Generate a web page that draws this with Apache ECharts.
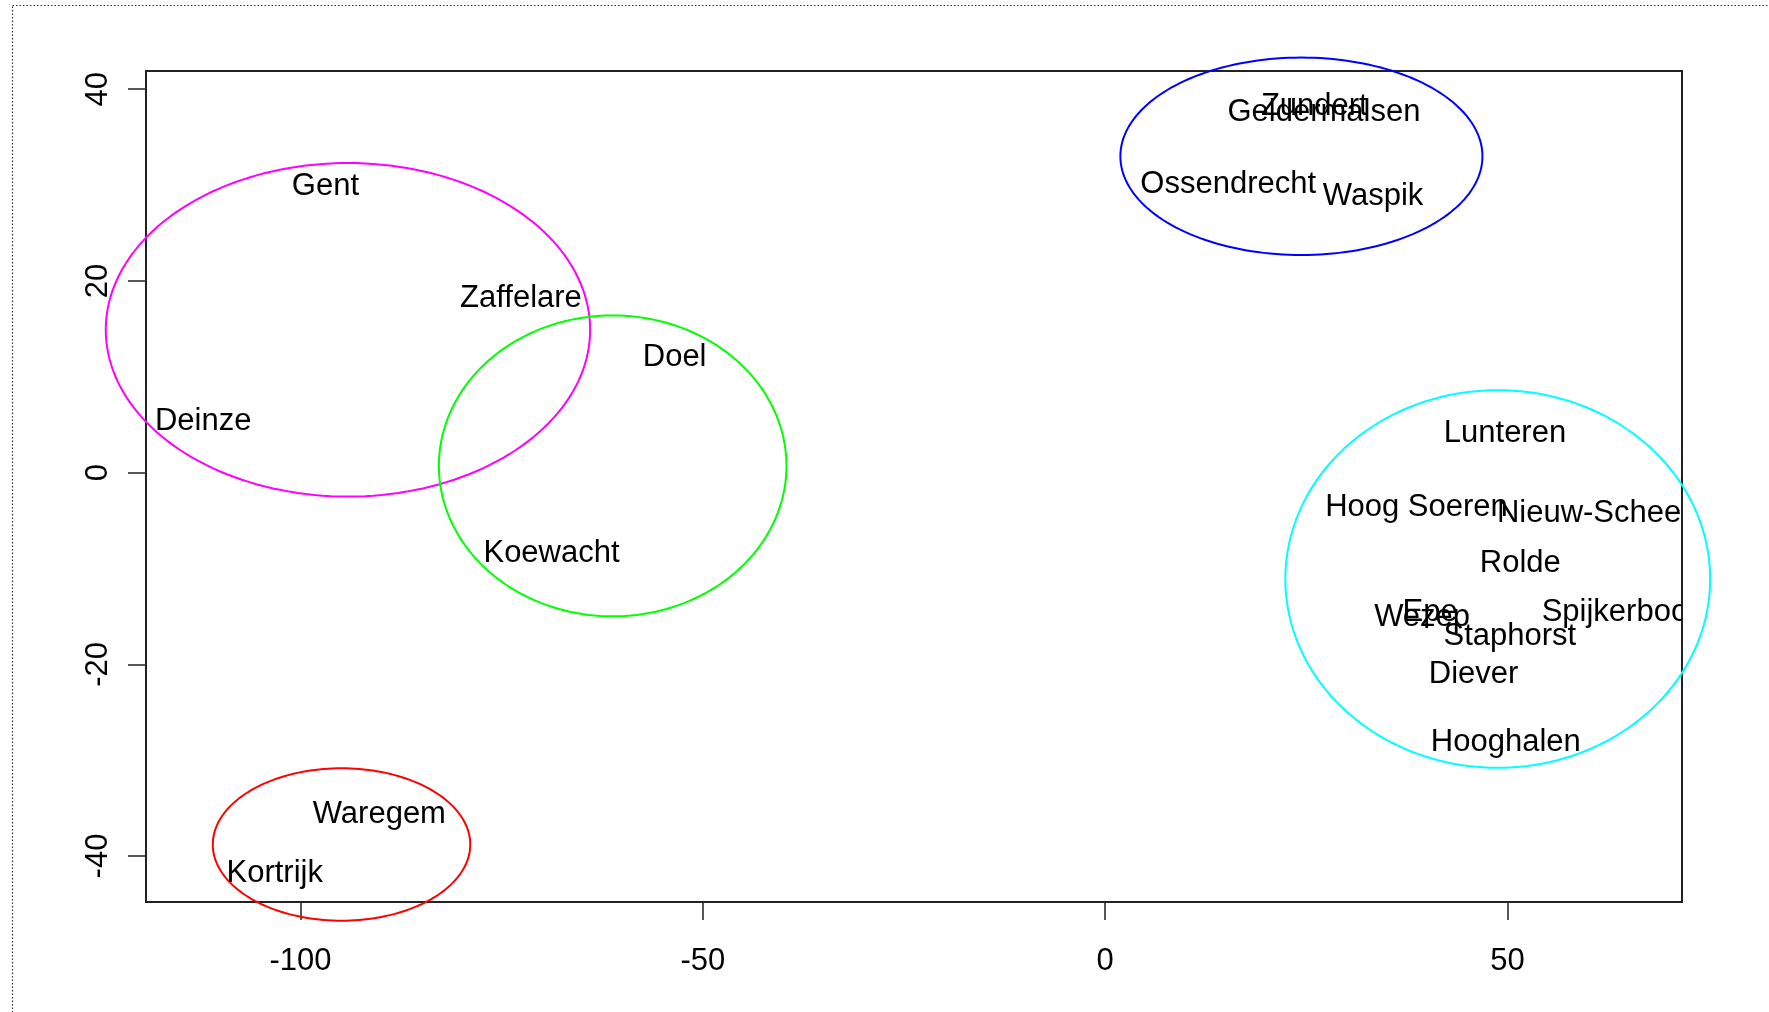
<!DOCTYPE html>
<html>
<head>
<meta charset="utf-8">
<title>clusters</title>
<script src="https://cdn.jsdelivr.net/npm/echarts/dist/echarts.min.js"></script>
<style>
  html, body { margin: 0; padding: 0; background: #fff; }
  #container { width: 1769px; height: 1012px; }
</style>
</head>
<body>
<div id="container"></div>
<script>
// place names and their two coordinates
var cities = ['Gent', 'Zaffelare', 'Deinze', 'Doel', 'Koewacht', 'Waregem', 'Kortrijk',
  'Zundert', 'Geldermalsen', 'Ossendrecht', 'Waspik',
  'Lunteren', 'Hoog Soeren', 'Nieuw-Scheemda', 'Rolde', 'Wezep', 'Epe', 'Staphorst',
  'Spijkerboor', 'Diever', 'Hooghalen'];
var xs = [-96.9, -72.6, -112.1, -53.5, -68.8, -90.2, -103.2,
  26.0, 27.2, 15.3, 33.3,
  49.7, 38.7, 63.9, 51.6, 39.4, 40.4, 50.3,
  64.0, 45.8, 49.8];
var ys = [30.2, 18.5, 5.7, 12.3, -8.1, -35.4, -41.5,
  38.5, 37.9, 30.4, 29.1,
  4.4, -3.3, -4.0, -9.2, -14.8, -14.3, -16.8,
  -14.3, -20.7, -27.8];

// cluster ellipses: centre x, centre y, radius x, radius y
var ellCx = [-94.1, -61.2, -94.9, 24.4, 48.8];
var ellCy = [14.9, 0.7, -38.8, 33.0, -11.1];
var ellRx = [30.1, 21.6, 16.0, 22.5, 26.4];
var ellRy = [17.4, 15.7, 7.95, 10.3, 19.7];
var ellColors = ['#ff00ff', '#00ff00', '#ff0000', '#0000ff', '#00ffff'];

// tick labels
var xTicks = [-100, -50, 0, 50];
var yTicks = [-40, -20, 0, 20, 40];

var FONT = '"Liberation Sans", Arial, sans-serif';

var chart = echarts.init(document.getElementById('container'));

var option = {
  backgroundColor: '#fff',
  animation: false,
  grid: {
    show: true,
    left: 146,
    right: 87,
    top: 71,
    bottom: 110,
    borderColor: '#222',
    borderWidth: 2,
    backgroundColor: 'rgba(0,0,0,0)'
  },
  xAxis: {
    type: 'value',
    min: -119.2,
    max: 71.7,
    splitLine: { show: false },
    axisLine: { show: true, onZero: false, lineStyle: { color: '#222', width: 2 } },
    axisTick: { show: true, inside: false, length: 18, customValues: xTicks, lineStyle: { color: '#222', width: 1.5 } },
    axisLabel: { customValues: xTicks, margin: 44, color: '#000', fontSize: 31, fontFamily: FONT }
  },
  yAxis: {
    type: 'value',
    min: -44.8,
    max: 41.9,
    splitLine: { show: false },
    axisLine: { show: true, onZero: false, lineStyle: { color: '#222', width: 2 } },
    axisTick: { show: true, inside: false, length: 18, customValues: yTicks, lineStyle: { color: '#222', width: 1.5 } },
    axisLabel: { customValues: yTicks, rotate: 90, margin: 32, color: '#000', fontSize: 31, fontFamily: FONT }
  },
  graphic: [{
    // dotted frame round the figure
    type: 'rect',
    z: -10,
    silent: true,
    shape: { x: 12.5, y: 5.5, width: 2000, height: 2000 },
    style: { fill: null, stroke: '#333', lineWidth: 1.2, lineDash: [1.5, 2] }
  }],
  series: [
    {
      // ellipses are not clipped to the plot box
      type: 'custom',
      clip: false,
      data: ellCx.map(function (c, i) { return [c, ellCy[i], ellRx[i], ellRy[i]]; }),
      renderItem: function (params, api) {
        var cx = api.value(0), cy = api.value(1), rx = api.value(2), ry = api.value(3);
        var pts = [];
        for (var k = 0; k <= 180; k++) {
          var t = k / 180 * Math.PI * 2;
          pts.push(api.coord([cx + rx * Math.cos(t), cy + ry * Math.sin(t)]));
        }
        return {
          type: 'polyline',
          shape: { points: pts },
          style: { stroke: ellColors[params.dataIndex], fill: null, lineWidth: 2 }
        };
      }
    },
    {
      // names, clipped at the plot box like R does
      type: 'custom',
      clip: true,
      data: xs.map(function (x, i) { return [x, ys[i]]; }),
      renderItem: function (params, api) {
        var p = api.coord([api.value(0), api.value(1)]);
        return {
          type: 'text',
          x: p[0],
          y: p[1] + 3, // R centres on cap height, nudge down a bit
          style: {
            text: cities[params.dataIndex],
            fill: '#000',
            fontSize: 31,
            fontFamily: FONT,
            align: 'center',
            verticalAlign: 'middle'
          }
        };
      }
    }
  ]
};

chart.setOption(option);
</script>
</body>
</html>
